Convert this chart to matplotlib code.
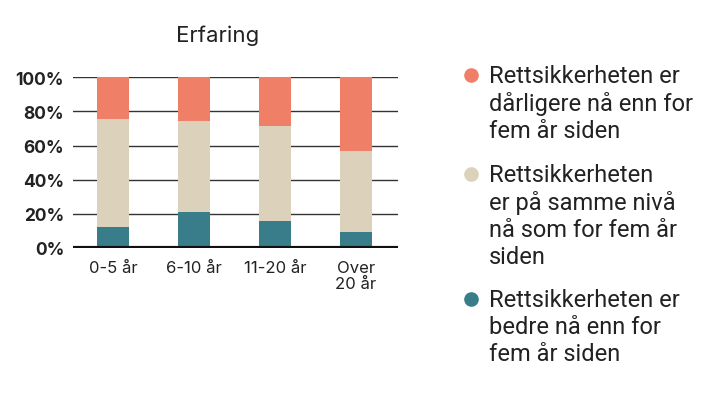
import matplotlib
matplotlib.use("Agg")
import matplotlib.pyplot as plt
from matplotlib.lines import Line2D
import numpy as np

# Data (percent)
categories = ["0-5 år", "6-10 år", "11-20 år", "Over\n20 år"]
bedre = [12.5, 20.9, 15.6, 9.0]
samme = [62.8, 53.4, 55.7, 47.7]
darligere = [24.7, 25.7, 28.7, 43.3]

legend_labels = [
    "Rettsikkerheten er\ndårligere nå enn for\nfem år siden",
    "Rettsikkerheten\ner på samme nivå\nnå som for fem år\nsiden",
    "Rettsikkerheten er\nbedre nå enn for\nfem år siden",
]
y_ticks = [0, 20, 40, 60, 80, 100]

RED = "#F07F68"
BEIGE = "#DCD1BA"
TEAL = "#3A7D8A"
TEXT = "#222222"

plt.rcParams['font.family'] = ['Inter', 'DejaVu Sans']

fig = plt.figure(figsize=(7.04, 4.02), dpi=100)
ax = fig.add_axes([0.103, 0.381, 0.462, 0.424])

x = np.arange(len(categories))
w = 0.4
ax.bar(x, bedre, w, color=TEAL, zorder=3)
ax.bar(x, samme, w, bottom=bedre, color=BEIGE, zorder=3)
ax.bar(x, darligere, w, bottom=np.array(bedre) + np.array(samme), color=RED, zorder=3)

ax.set_xlim(-0.5, 3.52)
ax.set_ylim(0, 100)
ax.set_yticks(y_ticks)
ax.set_yticklabels([f"{t}%" for t in y_ticks], fontsize=12.5, fontweight="bold", color=TEXT)
ax.set_xticks(x)
ax.set_xticklabels(categories, fontsize=12, color=TEXT, linespacing=1.05)
ax.tick_params(axis="both", length=0)
ax.tick_params(axis="y", pad=6)
ax.tick_params(axis="x", pad=9)

for t in y_ticks[1:]:
    ax.axhline(t, color="#333333", lw=1.0, zorder=1)
ax.axhline(0, color="#111111", lw=3, zorder=4)
for s in ax.spines.values():
    s.set_visible(False)

# title sits a bit left of the axes centre in the original
ax.set_title("Erfaring", fontsize=16, color=TEXT, pad=26, x=0.445)

# legend drawn manually
colors = [RED, BEIGE, TEAL]
tops = [76, 175, 300]
for lab, c, ty in zip(legend_labels, colors, tops):
    yf = 1 - ty / 402
    fig.add_artist(Line2D([471 / 704], [yf], marker="o", markersize=9.5,
                          color=c, linestyle="none", transform=fig.transFigure))
    fig.text(489 / 704, 1 - (ty - 11) / 402, lab, fontsize=17, color=TEXT,
             family=['Roboto', 'DejaVu Sans'], va="top", ha="left", linespacing=1.21)

fig.savefig("out.png", dpi=100)
